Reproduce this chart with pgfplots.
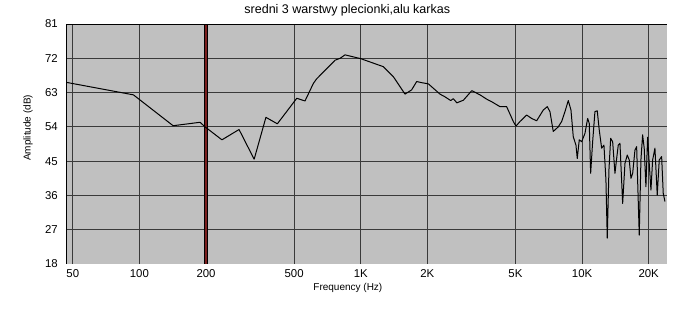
\documentclass[border=0pt]{standalone}
\usepackage{fontspec}
\setmainfont{Liberation Sans}
\usepackage{pgfplots}
\pgfplotsset{compat=1.18}
\definecolor{plotbg}{HTML}{C0C0C0}
\definecolor{gridc}{HTML}{3A3A3A}
\definecolor{maroonl}{HTML}{7A1E1E}
\begin{document}
\begin{tikzpicture}
\useasboundingbox[fill=white] (-66pt,-58pt) rectangle (611pt,264pt);
\begin{axis}[
  at={(0pt,0pt)}, anchor=south west,
  scale only axis, width=601pt, height=240pt,
  xmode=log, xmin=46.6, xmax=24200, ymin=18, ymax=81,
  xtick={50,100,200,500,1000,2000,5000,10000,20000},
  xticklabels={50,100,200,500,1K,2K,5K,10K,20K},
  ytick={18,27,36,45,54,63,72,81},
  major tick length=0pt, minor tick num=0,
  /pgf/number format/assume math mode=true,
  grid=major, major grid style={gridc, line width=1pt},
  axis background/.style={fill=plotbg},
  axis line style={draw=none},
  ticklabel style={font=\fontsize{11.4}{12}\selectfont},
  yticklabel style={anchor=east, inner sep=0pt, xshift=-8pt},
  xticklabel style={anchor=north, inner sep=0pt, yshift=-5pt},
  title={sredni 3 warstwy plecionki,alu karkas},
  title style={at={(axis description cs:0.468,1)}, anchor=base, yshift=5pt, font=\fontsize{12.5}{14}\selectfont},
  xlabel={Frequency (Hz)},
  xlabel style={at={(axis description cs:0.469,0)}, anchor=base, yshift=-26pt, font=\fontsize{10}{12}\selectfont},
  ylabel={Amplitude (dB)},
  ylabel style={at={(axis description cs:-0.0632,0.567)}, anchor=center, font=\fontsize{10}{12}\selectfont},
  clip=true,
]
\addplot[black, line width=4pt, forget plot] coordinates {(200,18) (200,81)};
\addplot[maroonl, line width=1.6pt, forget plot] coordinates {(200,18) (200,81)};
\addplot[black, line width=1pt, line join=round] coordinates {
(46.6,65.7) (94,62.4) (142,54.3) (188,55.2) (198,54.0) (236,50.6) (282,53.3)
(330,45.5) (373,56.5) (420,54.8) (514,61.5) (560,60.8) (611,65.4) (632,66.6)
(766,71.5) (807,72.0) (849,72.9) (1000,71.9) (1265,69.8) (1403,67.2) (1585,62.6)
(1698,63.7) (1790,65.9) (1885,65.6) (2020,65.3) (2280,62.6) (2400,61.9) (2550,60.9)
(2620,61.4) (2718,60.3) (2910,61.0) (3175,63.5) (3460,62.4) (3700,61.3) (3906,60.6)
(4258,59.3) (4564,59.3) (4891,55.4) (5028,54.2) (5243,55.4) (5620,57.1) (5921,56.2)
(6236,55.6) (6679,58.4) (6964,59.3) (7161,58.0) (7413,52.8) (7807,54.0) (8088,55.4)
(8371,58.0) (8664,60.9) (8911,58.4) (9127,51.4) (9386,49.2) (9513,45.7) (9714,50.6)
(9959,50.1) (10307,52.3) (10600,56.2) (10777,54.9) (10935,41.8) (11164,50.1)
(11435,58.0) (11712,58.2) (11958,53.2) (12260,48.4) (12557,49.2) (12820,40.1)
(12996,24.8) (13228,42.7) (13466,51.0) (13748,50.1) (14081,41.8) (14333,45.7)
(14573,49.2) (14834,49.7) (15257,33.9) (15627,44.4) (16005,46.6) (16340,45.3)
(16633,40.5) (16931,41.8) (17338,47.9) (17646,48.8) (18130,25.6) (18451,45.3)
(18776,51.9) (19095,48.4) (19433,38.3) (19781,51.3) (20114,44.4) (20474,37.4)
(20840,45.3) (21345,48.4) (21860,36.1) (22322,45.3) (22884,46.2) (23268,36.6)
(23680,34.4)
};
\draw[black, line width=1pt] (rel axis cs:0,0) -- (rel axis cs:0,1) -- (rel axis cs:1,1);
\draw[white, line width=1pt] (rel axis cs:1,1) -- (rel axis cs:1,0) -- (rel axis cs:0,0);
\end{axis}
\end{tikzpicture}
\end{document}
